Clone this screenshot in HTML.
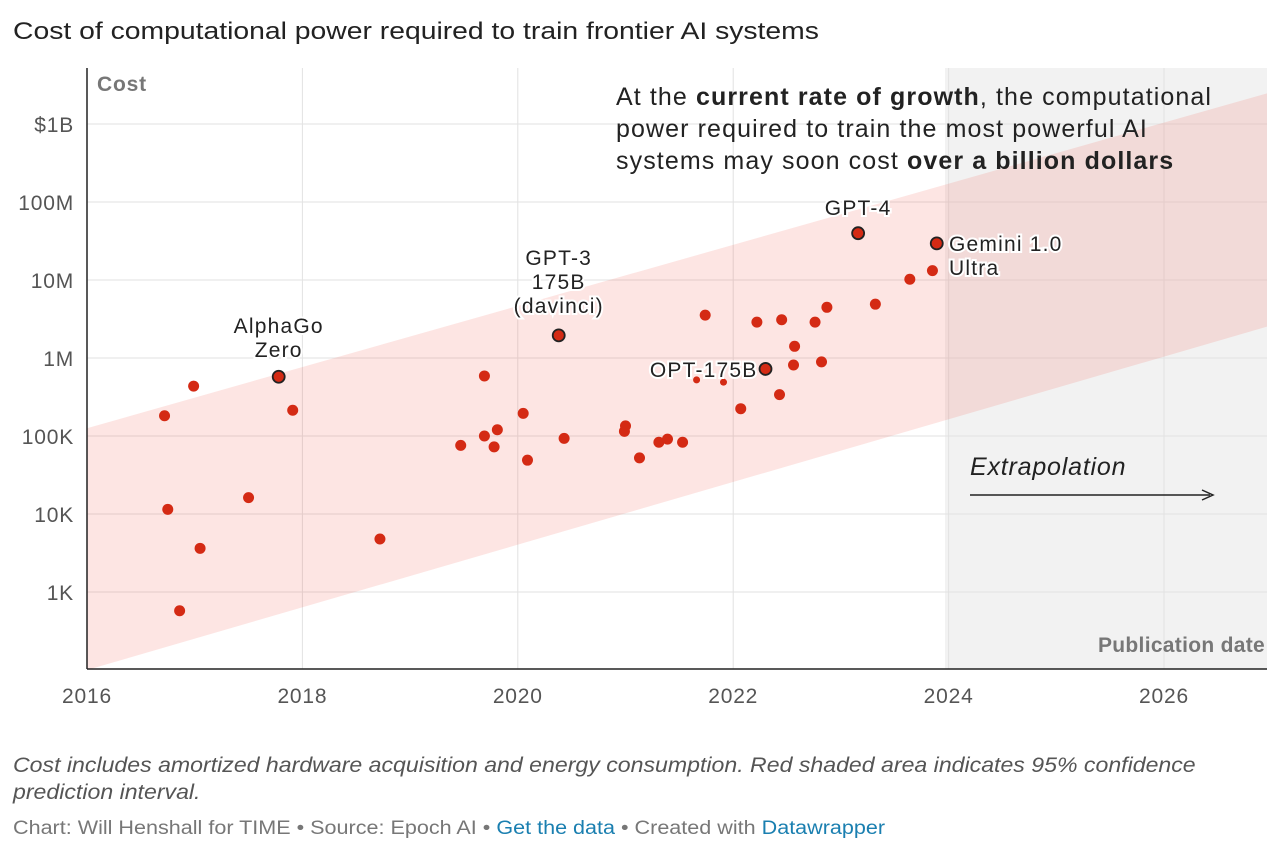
<!DOCTYPE html>
<html><head><meta charset="utf-8"><style>
body{margin:0;background:#fff;font-family:"Liberation Sans",sans-serif;}
#wrap{position:relative;width:1280px;height:856px;overflow:hidden}
.t{position:absolute;color:#222;transform-origin:0 0;white-space:nowrap}
</style></head><body>
<div id="wrap">
<div class="t" style="left:13px;top:18px;font-size:24px;color:#222;transform:scaleX(1.18)">Cost of computational power required to train frontier AI systems</div>
<svg id="chart" width="1280" height="740" style="position:absolute;left:0;top:0"><defs><clipPath id="plotclip"><rect x="87" y="60" width="1180" height="609"/></clipPath></defs></svg>
<div class="t" style="left:13px;top:752px;font-size:21px;font-style:italic;color:#555;line-height:27px;transform:scaleX(1.1)">Cost includes amortized hardware acquisition and energy consumption. Red shaded area indicates 95% confidence<br>prediction interval.</div>
<div class="t" style="left:13px;top:818px;font-size:19px;color:#777;transform:scaleX(1.135)">Chart: Will Henshall for TIME • Source: Epoch AI • <span style="color:#1a7fb0">Get the data</span> • Created with <span style="color:#1a7fb0">Datawrapper</span></div>
</div>
<script>
const xTicks=[2016,2018,2020,2022,2024,2026];
const yTicks=[3,4,5,6,7,8,9];
const yTickLabels=["1K","10K","100K","1M","10M","100M","$1B"];
const pointYears=[2016.72,2016.75,2016.86,2016.99,2017.05,2017.50,2017.78,2017.91,2018.72,2019.47,2019.69,2019.69,2019.78,2019.81,2020.05,2020.09,2020.38,2020.43,2020.99,2021.0,2021.13,2021.31,2021.39,2021.53,2021.66,2021.74,2021.91,2022.07,2022.22,2022.30,2022.43,2022.45,2022.56,2022.57,2022.76,2022.82,2022.87,2023.16,2023.32,2023.64,2023.85,2023.89];
const pointLogCost=[5.26,4.06,2.76,5.64,3.56,4.21,5.76,5.33,3.68,4.88,5.77,5.0,4.86,5.08,5.29,4.69,6.29,4.97,5.06,5.13,4.72,4.92,4.96,4.92,5.72,6.55,5.69,5.35,6.46,5.86,5.53,6.49,5.91,6.15,6.46,5.95,6.65,7.60,6.69,7.01,7.12,7.47];
const smallPoints=[24,26];
const labeledIdx=[6,16,29,37,41];
const bandYears=[2016,2027];
const bandUpper=[5.1,9.41];
const bandLower=[2.0,6.42];
const X=v=>87+(v-2016)*107.7;
const Y=v=>124+(9-v)*78;
const svg=document.getElementById('chart');
const NS='http://www.w3.org/2000/svg';
function mk(tag,at,name){const e=document.createElementNS(NS,tag);for(const k in at)e.setAttribute(k,at[k]);


svg.appendChild(e);return e;}
function txt(x,y,s,at,name){const e=mk('text',Object.assign({x:x,y:y,'letter-spacing':0.8},at),name);e.textContent=s;return e;}
mk('rect',{x:945,y:68,width:1267-945,height:669-68,fill:'#f2f2f2'},'extrapolation-region');
yTicks.forEach((t,i)=>{mk('line',{x1:87,x2:1267,y1:Y(t),y2:Y(t),stroke:'#e2e2e2','stroke-width':1},'y-gridline');
txt(74,Y(t)+8,yTickLabels[i],{'text-anchor':'end','font-size':21,fill:'#555'},'y-tick-label');});
xTicks.forEach(t=>{mk('line',{x1:X(t),x2:X(t),y1:68,y2:669,stroke:'#e2e2e2'},'x-gridline');
txt(X(t),703,String(t),{'text-anchor':'middle','font-size':21,fill:'#555'},'x-tick-label');});
mk('polygon',{points:`${X(bandYears[0])},${Y(bandUpper[0])} ${X(bandYears[1])},${Y(bandUpper[1])} ${X(bandYears[1])},${Y(bandLower[1])} ${X(bandYears[0])},${Y(bandLower[0])}`,fill:'rgba(240,80,70,0.15)','clip-path':'url(#plotclip)'},'confidence-band');
mk('line',{x1:87,x2:1267,y1:669,y2:669,stroke:'#222','stroke-width':1.5},'x-axis');
mk('line',{x1:87,x2:87,y1:68,y2:669,stroke:'#222','stroke-width':1.5},'y-axis');
txt(97,91,'Cost',{'font-size':21,'font-weight':'bold',fill:'#777'},'y-axis-title');
txt(1265,652,'Publication date',{'text-anchor':'end','font-size':21,'font-weight':'bold',fill:'#777','letter-spacing':0.3},'x-axis-title');
pointYears.forEach((yr,i)=>{const lab=labeledIdx.includes(i),sm=smallPoints.includes(i);
mk('circle',{cx:X(yr),cy:Y(pointLogCost[i]),r:sm?3.5:(lab?6:5.5),fill:'#d42a14',stroke:lab?'#222':'none','stroke-width':1.8},lab?'labeled-point':'data-point');});
const halo={'font-size':21,fill:'#222',stroke:'#fff','stroke-width':4,'paint-order':'stroke','letter-spacing':1.2};
function lbl(lines,x,y,anchor,name){lines.forEach((s,k)=>txt(x,y+k*24,s,Object.assign({'text-anchor':anchor},halo),name));}
lbl(['AlphaGo','Zero'],X(pointYears[6]),333,'middle','label-alphago-zero');
lbl(['GPT-3','175B','(davinci)'],X(pointYears[16]),265,'middle','label-gpt3');
lbl(['OPT-175B'],X(pointYears[29])-8,377,'end','label-opt-175b');
lbl(['GPT-4'],X(pointYears[37]),215,'middle','label-gpt4');
lbl(['Gemini 1.0','Ultra'],949,251,'start','label-gemini');
const a=mk('text',{x:616,y:105,'font-size':25,fill:'#222','letter-spacing':1.1},'annotation');
a.innerHTML='<tspan>At the </tspan><tspan font-weight="bold">current rate of growth</tspan><tspan>, the computational</tspan><tspan x="616" dy="32">power required to train the most powerful AI</tspan><tspan x="616" dy="32">systems may soon cost </tspan><tspan font-weight="bold">over a billion dollars</tspan>';
txt(970,475,'Extrapolation',{'font-size':25,'font-style':'italic',fill:'#222'},'extrapolation-label');
mk('line',{x1:970,x2:1210,y1:495,y2:495,stroke:'#222','stroke-width':1.5},'extrapolation-arrow-line');
mk('path',{d:'M1202,490 L1213,495 L1202,500',fill:'none',stroke:'#222','stroke-width':1.5},'extrapolation-arrowhead');
</script>
</body></html>
